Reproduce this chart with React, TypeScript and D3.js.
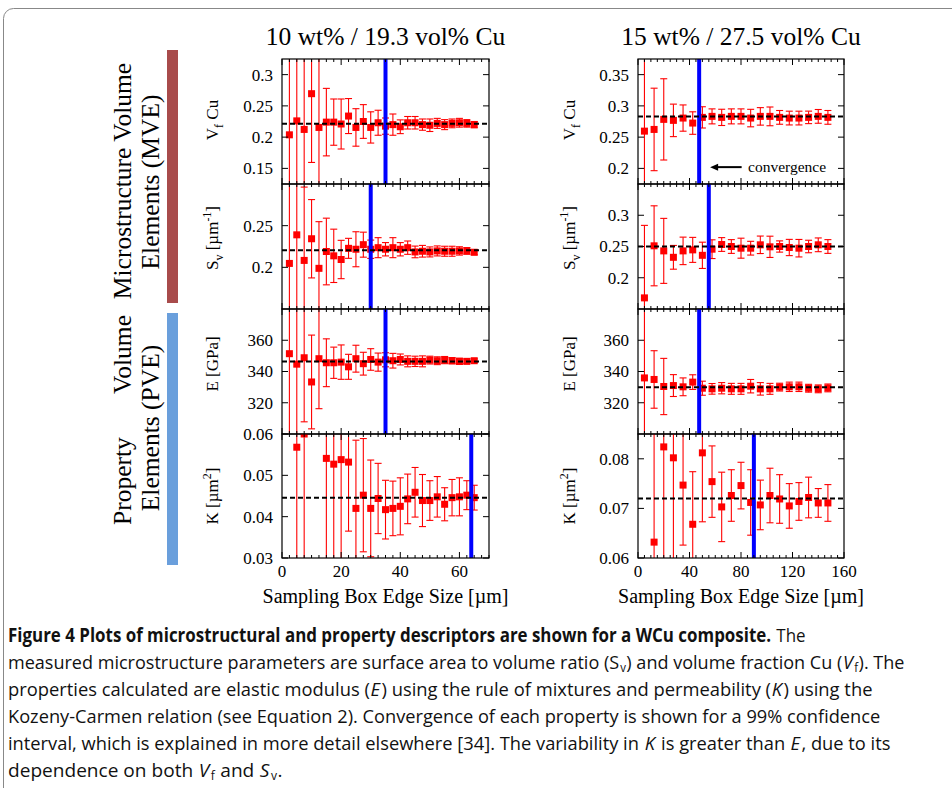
import React, { useEffect, useRef } from 'react';
import * as d3 from 'd3';

// sampling box edge sizes [µm]
const xLeft = [2.5, 5, 7.5, 10, 12.5, 15, 17.5, 20, 22.5, 25, 27.5, 30, 32.5, 35, 37.5, 40, 42.5, 45, 47.5, 50, 52.5, 55, 57.5, 60, 62.5, 65];
const xLeftK = [5, 7.5, 15, 17.5, 20, 22.5, 25, 27.5, 30, 32.5, 35, 37.5, 40, 42.5, 45, 47.5, 50, 52.5, 55, 57.5, 60, 62.5, 65];
const xRight = [5, 12.5, 20, 27.5, 35, 42.5, 50, 57.5, 65, 72.5, 80, 87.5, 95, 102.5, 110, 117.5, 125, 132.5, 140, 147.5];
const xRightK = [12.5, 20, 27.5, 35, 42.5, 50, 57.5, 65, 72.5, 80, 87.5, 95, 102.5, 110, 117.5, 125, 132.5, 140, 147.5];

// 10 wt% / 19.3 vol% Cu
const vfLeft = [0.2037, 0.226, 0.2123, 0.2695, 0.2155, 0.224, 0.224, 0.221, 0.2337, 0.2155, 0.225, 0.2155, 0.223, 0.2176, 0.22, 0.2166, 0.223, 0.223, 0.22, 0.219, 0.222, 0.22, 0.222, 0.223, 0.222, 0.22];
const vfLeftErr = [0.15, 0.15, 0.15, 0.11, 0.15, 0.054, 0.037, 0.04, 0.028, 0.03, 0.027, 0.025, 0.02, 0.013, 0.017, 0.011, 0.01, 0.01, 0.009, 0.01, 0.008, 0.008, 0.007, 0.007, 0.006, 0.005];
const svLeft = [0.2047, 0.239, 0.2083, 0.2343, 0.1988, 0.219, 0.2138, 0.2094, 0.2228, 0.2217, 0.2272, 0.2217, 0.2236, 0.2217, 0.2236, 0.2217, 0.2236, 0.2185, 0.2193, 0.2185, 0.2197, 0.2193, 0.2193, 0.2197, 0.2197, 0.2181];
const svLeftErr = [0.15, 0.15, 0.088, 0.047, 0.056, 0.04, 0.032, 0.023, 0.012, 0.021, 0.015, 0.011, 0.012, 0.008, 0.012, 0.008, 0.008, 0.007, 0.007, 0.006, 0.006, 0.006, 0.006, 0.005, 0.004, 0.003];
const eLeft = [351.4, 344.7, 348.8, 333.3, 348.2, 345.6, 345.6, 346, 343, 348.2, 345, 347.7, 346, 347.5, 346.9, 347.7, 346.5, 346.5, 346.5, 347.3, 346.9, 347.3, 346.9, 346.5, 346.5, 346.9];
const eLeftErr = [60, 60, 41, 30, 32, 15.3, 10, 11, 8, 8.6, 7.3, 6.9, 5.8, 4.5, 4.7, 3.5, 3.5, 3.3, 3.5, 2.5, 2.5, 2.3, 2, 2, 1.5, 1.2];
const kLeft = [0.0568, 0.06, 0.0541, 0.0527, 0.0538, 0.0532, 0.042, 0.0452, 0.042, 0.0444, 0.0417, 0.042, 0.0425, 0.0443, 0.0459, 0.0439, 0.0439, 0.0448, 0.043, 0.0446, 0.0448, 0.0452, 0.0446];
const kLeftErr = [0.04, 0.04, 0.03, 0.03, 0.03, 0.0167, 0.0165, 0.0137, 0.0117, 0.0085, 0.0071, 0.0066, 0.0069, 0.006, 0.006, 0.0063, 0.0048, 0.0049, 0.004, 0.0044, 0.0046, 0.0035, 0.003];

// 15 wt% / 27.5 vol% Cu
const vfRight = [0.2596, 0.2623, 0.2784, 0.2768, 0.2805, 0.2725, 0.2816, 0.2832, 0.2816, 0.2832, 0.2832, 0.2805, 0.2832, 0.2832, 0.2816, 0.2805, 0.2805, 0.2816, 0.2832, 0.2816];
const vfRightErr = [0.15, 0.066, 0.065, 0.026, 0.021, 0.018, 0.017, 0.012, 0.013, 0.012, 0.012, 0.014, 0.014, 0.015, 0.011, 0.011, 0.011, 0.01, 0.011, 0.011];
const svRight = [0.1678, 0.2511, 0.243, 0.2327, 0.243, 0.2446, 0.2359, 0.2457, 0.2532, 0.25, 0.2473, 0.2473, 0.2527, 0.2495, 0.25, 0.2484, 0.2473, 0.25, 0.2527, 0.25];
const svRightErr = [0.116, 0.064, 0.052, 0.019, 0.022, 0.02, 0.021, 0.015, 0.011, 0.011, 0.016, 0.011, 0.014, 0.017, 0.009, 0.013, 0.014, 0.01, 0.011, 0.011];
const eRight = [335.9, 334.9, 330.4, 331, 330.2, 333.2, 329.3, 328.9, 329.3, 328.9, 328.9, 330.6, 328.9, 328.9, 330, 330.2, 330.2, 329.3, 328.9, 329.5];
const eRightErr = [60, 18.4, 18, 7, 5.7, 4.7, 4.5, 3.4, 3.6, 3.5, 3.5, 4.3, 4, 3.5, 2.5, 3, 3, 2.5, 2.5, 2.5];
const kRight = [0.0632, 0.0824, 0.0802, 0.0747, 0.0668, 0.0812, 0.0754, 0.0703, 0.0726, 0.0746, 0.0712, 0.0707, 0.0726, 0.0719, 0.0705, 0.0714, 0.0722, 0.0711, 0.0711];
const kRightErr = [0.03, 0.025, 0.025, 0.0121, 0.0106, 0.0139, 0.0072, 0.007, 0.0052, 0.0047, 0.0066, 0.005, 0.0055, 0.0049, 0.0045, 0.0038, 0.0041, 0.0029, 0.0037];

// converged mean (dashed) and convergence edge size (blue)
const meanLeft = [0.2214, 0.2205, 346.45, 0.0446];
const meanRight = [0.2832, 0.25, 329.9, 0.072];
const convLeft = [35, 30, 35, 64];
const convRight = [47.5, 55, 47.5, 90];

const yDomains = [
  [[0.125, 0.325], [0.15, 0.3], [300, 380], [0.03, 0.06]],
  [[0.175, 0.375], [0.15, 0.35], [300, 380], [0.06, 0.085]],
];
const yTicks = [
  [[0.15, 0.2, 0.25, 0.3], [0.2, 0.25], [320, 340, 360], [0.03, 0.04, 0.05, 0.06]],
  [[0.2, 0.25, 0.3, 0.35], [0.2, 0.25, 0.3], [320, 340, 360], [0.06, 0.07, 0.08]],
];
const xTickLabels = [[0, 20, 40, 60], [0, 40, 80, 120, 160]];
const titles = ['10 wt% / 19.3 vol% Cu', '15 wt% / 27.5 vol% Cu'];

type Part = { t: string; sub?: boolean; sup?: boolean; i?: boolean; b?: boolean };
const yTitles: Part[][] = [
  [{ t: 'V' }, { t: 'f', sub: true }, { t: ' Cu' }],
  [{ t: 'S' }, { t: 'v', sub: true }, { t: ' [µm' }, { t: '-1', sup: true }, { t: ']' }],
  [{ t: 'E [GPa]' }],
  [{ t: 'K [µm' }, { t: '2', sup: true }, { t: ']' }],
];
const yTitleCenters = [120, 238, 364, 496];

const captionLines: { w: number; parts: Part[] }[] = [
  { w: 798, parts: [{ t: 'Figure 4 Plots of microstructural and property descriptors are shown for a WCu composite.', b: true }, { t: ' The' }] },
  { w: 897, parts: [{ t: 'measured microstructure parameters are surface area to volume ratio (S' }, { t: 'v', sub: true }, { t: ') and volume fraction Cu (' }, { t: 'V', i: true }, { t: 'f', sub: true }, { t: '). The' }] },
  { w: 865, parts: [{ t: 'properties calculated are elastic modulus (' }, { t: 'E', i: true }, { t: ') using the rule of mixtures and permeability (' }, { t: 'K', i: true }, { t: ') using the' }] },
  { w: 873, parts: [{ t: 'Kozeny-Carmen relation (see Equation 2). Convergence of each property is shown for a 99% confidence' }] },
  { w: 883, parts: [{ t: 'interval, which is explained in more detail elsewhere [34]. The variability in ' }, { t: 'K', i: true }, { t: ' is greater than ' }, { t: 'E', i: true }, { t: ', due to its' }] },
  { w: 275, parts: [{ t: 'dependence on both ' }, { t: 'V', i: true }, { t: 'f', sub: true }, { t: ' and ' }, { t: 'S', i: true }, { t: 'v', sub: true }, { t: '.' }] },
];

const SERIF = '"Liberation Serif", "Times New Roman", serif';
const SANS = '"Open Sans", "Noto Sans", sans-serif';

const colX = [[282, 489], [638, 844]];
const rowY = [59, 184, 309, 434, 558];
const xDomains = [[0, 70], [0, 160]];
const xMajor = [20, 40];
const xMinor = [2.5, 5];

function addParts(text: any, parts: Part[]) {
  let shift = 0;
  parts.forEach((p) => {
    const ts = text.append('tspan').text(p.t);
    const target = p.sub ? 5 : p.sup ? -7 : 0;
    if (target !== shift) ts.attr('dy', target - shift);
    shift = target;
    if (p.sub || p.sup) ts.attr('font-size', '0.7em');
  });
}

const App = () => {
  const svgRef = useRef<SVGSVGElement>(null);

  useEffect(() => {
    const svg = d3.select(svgRef.current);
    svg.selectAll('*').remove();

    // outer frame
    svg.append('rect')
      .attr('x', 3.5).attr('y', 8.5).attr('width', 1000).attr('height', 900)
      .attr('rx', 10).attr('fill', 'none').attr('stroke', '#888').attr('stroke-width', 1);

    const series = [
      [
        { x: xLeft, y: vfLeft, e: vfLeftErr },
        { x: xLeft, y: svLeft, e: svLeftErr },
        { x: xLeft, y: eLeft, e: eLeftErr },
        { x: xLeftK, y: kLeft, e: kLeftErr },
      ],
      [
        { x: xRight, y: vfRight, e: vfRightErr },
        { x: xRight, y: svRight, e: svRightErr },
        { x: xRight, y: eRight, e: eRightErr },
        { x: xRightK, y: kRight, e: kRightErr },
      ],
    ];
    const means = [meanLeft, meanRight];
    const convs = [convLeft, convRight];

    const defs = svg.append('defs');

    [0, 1].forEach((c) => {
      const [x0, x1] = colX[c];
      const x = d3.scaleLinear().domain(xDomains[c]).range([x0, x1]);
      const majors = d3.range(xDomains[c][0], xDomains[c][1] + 0.001, xMajor[c]);
      const minors = d3.range(xDomains[c][0], xDomains[c][1] + 0.001, xMinor[c]).filter((v) => Math.abs(v % xMajor[c]) > 1e-6);

      // column title
      svg.append('text')
        .attr('x', (x0 + x1) / 2).attr('y', 45)
        .attr('text-anchor', 'middle').attr('font-family', SERIF).attr('font-size', 25.5)
        .text(titles[c]);

      [0, 1, 2, 3].forEach((r) => {
        const top = rowY[r];
        const bottom = rowY[r + 1];
        const y = d3.scaleLinear().domain(yDomains[c][r]).range([bottom, top]);
        const g = svg.append('g');
        const clipId = `clip-${c}-${r}`;
        defs.append('clipPath').attr('id', clipId)
          .append('rect').attr('x', x0).attr('y', top).attr('width', x1 - x0).attr('height', bottom - top);
        const plot = g.append('g').attr('clip-path', `url(#${clipId})`);
        const s = series[c][r];
        const pts = s.x.map((xv, i) => ({ x: xv, y: s.y[i], e: s.e[i] }));

        // error bars
        const eb = plot.append('g').attr('stroke', '#ff0000').attr('stroke-width', 1.1).attr('fill', 'none');
        pts.forEach((d) => {
          const px = x(d.x);
          eb.append('line').attr('x1', px).attr('x2', px).attr('y1', y(d.y - d.e)).attr('y2', y(d.y + d.e));
          eb.append('line').attr('x1', px - 3.5).attr('x2', px + 3.5).attr('y1', y(d.y - d.e)).attr('y2', y(d.y - d.e));
          eb.append('line').attr('x1', px - 3.5).attr('x2', px + 3.5).attr('y1', y(d.y + d.e)).attr('y2', y(d.y + d.e));
        });

        // points
        plot.append('g').selectAll('rect').data(pts).enter().append('rect')
          .attr('x', (d) => x(d.x) - 3.5).attr('y', (d) => y(d.y) - 3.5)
          .attr('width', 7).attr('height', 7).attr('fill', '#ff0000');

        // convergence line
        plot.append('line')
          .attr('x1', x(convs[c][r])).attr('x2', x(convs[c][r]))
          .attr('y1', top).attr('y2', bottom)
          .attr('stroke', '#0000ff').attr('stroke-width', 4);

        // converged mean
        plot.append('line')
          .attr('x1', x0).attr('x2', x1)
          .attr('y1', y(means[c][r])).attr('y2', y(means[c][r]))
          .attr('stroke', '#000').attr('stroke-width', 2).attr('stroke-dasharray', '5,3');

        // ticks
        const tk = g.append('g').attr('stroke', '#000').attr('stroke-width', 1);
        yTicks[c][r].forEach((v) => {
          tk.append('line').attr('x1', x0).attr('x2', x0 + 6).attr('y1', y(v)).attr('y2', y(v));
          tk.append('line').attr('x1', x1).attr('x2', x1 - 6).attr('y1', y(v)).attr('y2', y(v));
        });
        majors.forEach((v) => {
          tk.append('line').attr('x1', x(v)).attr('x2', x(v)).attr('y1', top).attr('y2', top + 6);
          tk.append('line').attr('x1', x(v)).attr('x2', x(v)).attr('y1', bottom).attr('y2', bottom - 6);
        });
        minors.forEach((v) => {
          tk.append('line').attr('x1', x(v)).attr('x2', x(v)).attr('y1', top).attr('y2', top + 3);
          tk.append('line').attr('x1', x(v)).attr('x2', x(v)).attr('y1', bottom).attr('y2', bottom - 3);
        });

        // y tick labels
        g.append('g').selectAll('text').data(yTicks[c][r]).enter().append('text')
          .attr('x', x0 - 9).attr('y', (d) => y(d)).attr('dy', '0.35em')
          .attr('text-anchor', 'end').attr('font-family', SERIF).attr('font-size', 17)
          .text((d) => String(d));

        // y title
        const tx = c === 0 ? 218 : 575;
        const title = g.append('text')
          .attr('transform', `translate(${tx},${yTitleCenters[r]}) rotate(-90)`)
          .attr('text-anchor', 'middle').attr('font-family', SERIF).attr('font-size', 17);
        addParts(title, yTitles[r]);

        // frame
        g.append('rect')
          .attr('x', x0).attr('y', top).attr('width', x1 - x0).attr('height', bottom - top)
          .attr('fill', 'none').attr('stroke', '#000').attr('stroke-width', 1.2);

        if (c === 1 && r === 0) {
          // convergence annotation
          const ay = y(0.202);
          g.append('line')
            .attr('x1', x(56) + 7).attr('x2', x(80.5)).attr('y1', ay).attr('y2', ay)
            .attr('stroke', '#000').attr('stroke-width', 2);
          g.append('path')
            .attr('d', `M${x(56)},${ay} l8,-3.5 l0,7 z`).attr('fill', '#000');
          g.append('text')
            .attr('x', x(85.5)).attr('y', ay).attr('dy', '0.3em')
            .attr('font-family', SERIF).attr('font-size', 15.5)
            .text('convergence');
        }
      });

      // x tick labels and axis title
      svg.append('g').selectAll('text').data(xTickLabels[c]).enter().append('text')
        .attr('x', (d) => x(d)).attr('y', 577)
        .attr('text-anchor', 'middle').attr('font-family', SERIF).attr('font-size', 17)
        .text((d) => String(d));
      svg.append('text')
        .attr('x', (x0 + x1) / 2).attr('y', 603)
        .attr('text-anchor', 'middle').attr('font-family', SERIF).attr('font-size', 20)
        .text('Sampling Box Edge Size [µm]');
    });

    // group bars and labels
    svg.append('rect').attr('x', 167).attr('y', 50).attr('width', 11).attr('height', 253).attr('fill', '#a84b4b');
    svg.append('rect').attr('x', 167).attr('y', 313).attr('width', 11).attr('height', 252).attr('fill', '#6a9fdc');
    const groupText = (s: string, bx: number, py: number, anchor: string) =>
      svg.append('text')
        .attr('transform', `translate(${bx},${py}) rotate(-90)`)
        .attr('text-anchor', anchor).attr('font-family', SERIF).attr('font-size', 25.5)
        .text(s);
    groupText('Microstructure Volume', 131, 181, 'middle');
    groupText('Elements (MVE)', 159, 182, 'middle');
    // first PVE line is set wide (justified), so its two words sit apart
    groupText('Property', 131, 525, 'start');
    groupText('Volume', 131, 315, 'end');
    groupText('Elements (PVE)', 159, 428, 'middle');

    // caption: segments laid out one after another, then squeezed to the line width
    captionLines.forEach((ln, i) => {
      const lg = svg.append('g');
      let cx = 0;
      ln.parts.forEach((p) => {
        const t = lg.append('text')
          .attr('x', cx).attr('y', p.sub ? 3 : 0)
          .attr('font-family', SANS).attr('font-size', p.sub ? 12 : 19)
          .attr('fill', '#111')
          .style('white-space', 'pre')
          .text(p.t);
        if (p.i) t.attr('font-style', 'italic');
        if (p.b) t.attr('font-weight', 'bold');
        cx += (t.node() as SVGTextElement).getComputedTextLength() + (p.i ? 1.5 : 0.5);
      });
      lg.attr('transform', `translate(8,${642 + i * 27}) scale(${ln.w / cx},1)`);
    });
  }, []);

  return (
    <svg
      ref={svgRef}
      width={952}
      height={788}
      style={{ position: 'absolute', left: 0, top: 0, background: '#fff' }}
    />
  );
};

export default App;
